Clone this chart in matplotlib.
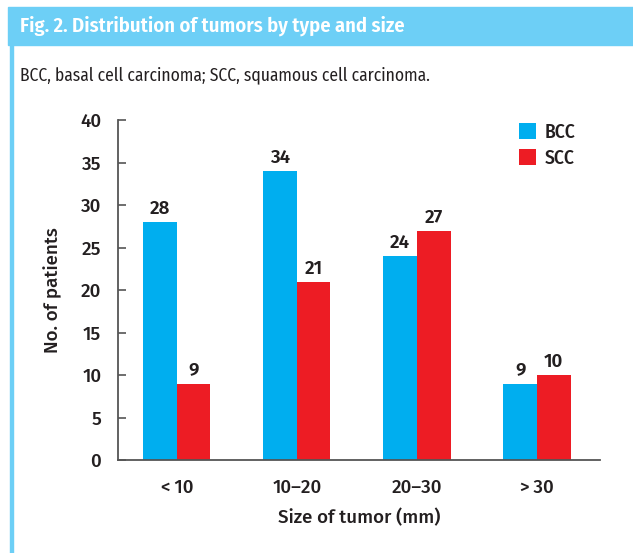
import matplotlib.pyplot as plt
from matplotlib.patches import Rectangle

categories = ["<\u200910", "10\u201320", "20\u201330", ">\u200930"]
bcc = [28, 34, 24, 9]
scc = [9, 21, 27, 10]

BLUE = "#00AEEF"
RED = "#ED1C24"
HEAD = "#6DCFF6"
TEXT = "#231F20"

COND = ["Fira Sans Condensed", "DejaVu Sans"]
WIDE = ["Fira Sans", "DejaVu Sans"]
plt.rcParams["font.family"] = WIDE


def main():
    fig = plt.figure(figsize=(6.33, 5.53), dpi=100)
    W, H = 633, 553

    # header band and left rule
    fig.patches.append(Rectangle((8 / W, 1 - 45 / H), 1 - 8 / W, 38 / H,
                                 transform=fig.transFigure, color=HEAD, zorder=0))
    fig.patches.append(Rectangle((10 / W, 0), 2.5 / W, 1 - 45 / H,
                                 transform=fig.transFigure, color=HEAD, zorder=0))
    fig.text(20 / W, 1 - 26 / H, "Fig. 2. Distribution of tumors by type and size",
             color="white", fontsize=14.8, fontweight="semibold", va="center", family=COND)
    fig.text(20 / W, 1 - 75 / H, "BCC, basal cell carcinoma; SCC, squamous cell carcinoma.",
             color=TEXT, fontsize=12.6, fontweight="normal", va="center", family=COND)

    ax = fig.add_axes([118 / W, 93 / H, 482 / W, 340 / H])
    x = list(range(len(categories)))
    w = 0.28
    b1 = ax.bar([i - w / 2 for i in x], bcc, w, color=BLUE, label="BCC")
    b2 = ax.bar([i + w / 2 for i in x], scc, w, color=RED, label="SCC")
    for bars in (b1, b2):
        ax.bar_label(bars, padding=3, fontsize=13.5, fontweight="semibold", color=TEXT)

    ax.set_xlim(-0.49, 3.525)
    ax.set_ylim(0, 40)
    ax.set_yticks(range(0, 41, 5))
    ax.set_xticks(x)
    ax.set_xticklabels(categories)
    for s in ("top", "right"):
        ax.spines[s].set_visible(False)
    for s in ("left", "bottom"):
        ax.spines[s].set_color("#555555")
        ax.spines[s].set_linewidth(1.3)
    ax.tick_params(axis="y", direction="in", length=6, width=1.2, color="#555555",
                   labelsize=13.5, labelcolor=TEXT, pad=12)
    ax.tick_params(axis="x", length=0, labelsize=13.5, labelcolor=TEXT, pad=14)
    for lab in ax.get_yticklabels() + ax.get_xticklabels():
        lab.set_fontweight("medium")
    ax.set_ylabel("No. of patients", fontsize=13.5, color=TEXT, fontweight="medium", labelpad=13)
    ax.set_xlabel("Size of tumor (mm)", fontsize=13.5, color=TEXT, fontweight="medium", labelpad=8)

    ax.legend(loc="upper right", bbox_to_anchor=(0.985, 1.045), frameon=False,
              prop={"size": 14, "weight": "medium", "family": COND},
              handlelength=0.85, handleheight=0.85, handletextpad=0.45, labelspacing=0.35,
              labelcolor=TEXT)

    fig.savefig("out.png", dpi=100)


if __name__ == "__main__":
    main()
